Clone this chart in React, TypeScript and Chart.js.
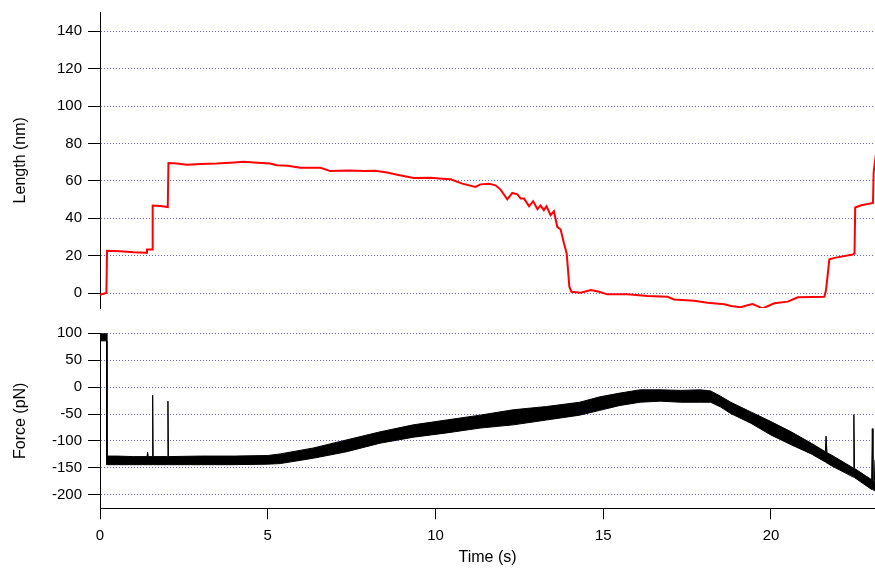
import React, { useEffect, useRef } from 'react';
import { Chart, registerables } from 'chart.js';

Chart.register(...registerables);

// ---- Tick values ----
const timeTicks = [0, 5, 10, 15, 20];
const lengthTicks = [0, 20, 40, 60, 80, 100, 120, 140];
const forceTicks = [-200, -150, -100, -50, 0, 50, 100];

// ---- Length trace (time s, length nm) ----
const lengthT = [
  0, 0.19, 0.2, 0.21, 0.6, 1.0, 1.38, 1.4, 1.55, 1.57, 1.8, 2.02, 2.04, 2.3, 2.59, 3.0, 3.48, 4.0, 4.28, 4.7,
  5.07, 5.27, 5.6, 5.97, 6.57, 6.87, 7.4, 7.86, 8.2, 8.56, 8.86, 9.35, 9.85, 10.1, 10.45, 10.8, 11.19, 11.34,
  11.6, 11.79, 11.94, 12.14, 12.29, 12.44, 12.54, 12.64, 12.79, 12.91, 13.04, 13.13, 13.23, 13.31, 13.43,
  13.53, 13.63, 13.73, 13.83, 13.91, 13.99, 14.05, 14.33, 14.63, 14.88, 15.12, 15.72, 16.32, 16.92, 17.11,
  17.71, 18.11, 18.61, 18.81, 19.1, 19.3, 19.45, 19.6, 19.75, 20.1, 20.5, 20.8, 21.59, 21.64, 21.74, 21.89,
  22.44, 22.49, 22.51, 22.69, 23.04, 23.06, 23.13,
];
const lengthNm = [
  -1, 0, 0, 22.6, 22.3, 21.8, 21.5, 23.3, 23.3, 46.8, 46.5, 46.0, 69.5, 69.3, 68.6, 69.0, 69.2, 69.8, 70.2, 69.6,
  69.2, 68.3, 68.0, 67.0, 67.0, 65.2, 65.5, 65.2, 65.4, 64.4, 63.3, 61.5, 61.7, 61.3, 60.8, 58.5, 56.7, 58.1,
  58.4, 57.6, 55.3, 50.1, 53.5, 52.8, 50.5, 50.5, 46.4, 49.1, 44.8, 46.9, 44.3, 46.4, 41.6,
  43.7, 35.4, 34.0, 26.5, 21.2, 3.4, 0.7, 0.2, 1.6, 0.7, -0.7, -0.7, -1.6, -2.0, -3.4,
  -4.1, -5.2, -6.0, -6.9, -7.6, -6.5, -5.9, -7.0, -8.2, -5.5, -4.6, -2.3, -2.0, 1.6, 18.0, 18.8,
  20.6, 21.2, 45.7, 46.9, 48.2, 64.7, 74.5,
];

// ---- Force trace: noise band upper / lower edges (time s, force pN) ----
const forceT = [
  0, 0.195, 0.205, 0.5, 1.0, 1.4, 1.42, 1.44, 1.56, 1.57, 1.585, 2.01, 2.025, 2.04, 3.0, 4.0, 5.0, 5.37,
  6.36, 7.35, 8.35, 9.34, 10.33, 11.33, 12.32, 13.31, 14.3, 14.9, 15.5, 16.1, 16.7, 17.3, 17.9, 18.2, 18.5,
  18.8, 19.4, 20.0, 20.6, 21.2, 21.62, 21.64, 21.67, 21.8, 22.45, 22.47, 22.49, 23.0, 23.02, 23.04, 23.08,
  23.1, 23.13,
];
const forceHigh = [
  100, 100, -128, -128, -129, -129, -121, -129, -129, -15, -129, -129, -26, -129, -128, -128, -127, -124,
  -113, -98, -83, -70, -61, -52, -42, -36, -28, -18, -11, -5, -5, -6, -5, -7, -17,
  -28, -46, -64, -83, -104, -120, -91, -122, -126, -150, -51, -151, -172, -77, -174, -178,
  -135, -183,
];
const forceLow = [
  86, 86, -144, -144, -144, -144, -144, -144, -144, -144, -144, -144, -144, -144, -144, -144, -143, -142,
  -132, -120, -104, -93, -85, -76, -70, -61, -52, -43, -34, -28, -26, -28, -28, -28, -37,
  -49, -67, -89, -107, -124, -139, -140, -141, -146, -167, -167, -168, -190, -190, -190, -192,
  -193, -199,
];

const FONT = "'Liberation Sans', Arial, Helvetica, sans-serif";
const GRID_BLUE = 'rgba(80,80,255,0.9)';
const X_MAX = 23.1;

function yAxisOptions(title: string, min: number, max: number, ticks: number[]) {
  return {
    type: 'linear',
    position: 'left',
    min,
    max,
    afterBuildTicks: (s: any) => {
      s.ticks = ticks.map((v) => ({ value: v }));
    },
    afterFit: (s: any) => {
      s.width = 100;
      s.paddingTop = 0;
      s.paddingBottom = 0;
    },
    border: { display: true, color: '#000', width: 1, dash: [1, 2] },
    grid: {
      color: GRID_BLUE,
      lineWidth: 1,
      tickColor: '#000',
      tickLength: 12,
      tickWidth: 1,
      tickBorderDash: [],
      drawTicks: true,
    },
    ticks: { color: '#000', font: { family: FONT, size: 15 }, padding: 6, autoSkip: false },
    title: {
      display: true,
      text: title,
      color: '#000',
      font: { family: FONT, size: 16 },
      padding: { top: 11, bottom: 0 },
    },
  };
}

export default function App() {
  const topRef = useRef<HTMLCanvasElement | null>(null);
  const botRef = useRef<HTMLCanvasElement | null>(null);

  useEffect(() => {
    const lengthData = lengthT.map((t, i) => ({ x: t, y: lengthNm[i] }));
    const lowData = forceT.map((t, i) => ({ x: t, y: forceLow[i] }));
    const highData = forceT.map((t, i) => ({ x: t, y: forceHigh[i] }));

    const top = new Chart(topRef.current as HTMLCanvasElement, {
      type: 'line',
      data: {
        datasets: [
          {
            data: lengthData,
            borderColor: '#ff0000',
            borderWidth: 2,
            pointRadius: 0,
            fill: false,
            tension: 0,
          },
        ],
      },
      options: {
        animation: false,
        responsive: false,
        events: [],
        layout: { padding: { left: 0, right: 0, top: 12.5, bottom: 12 } },
        plugins: { legend: { display: false }, tooltip: { enabled: false } },
        scales: {
          x: { type: 'linear', min: 0, max: X_MAX, display: false },
          y: yAxisOptions('Length (nm)', -8, 150, lengthTicks) as any,
        },
      },
    } as any);

    const bot = new Chart(botRef.current as HTMLCanvasElement, {
      type: 'line',
      data: {
        datasets: [
          {
            data: lowData,
            borderColor: '#000',
            borderWidth: 1,
            pointRadius: 0,
            fill: false,
            tension: 0,
          },
          {
            data: highData,
            borderColor: '#000',
            backgroundColor: '#000',
            borderWidth: 1,
            pointRadius: 0,
            fill: '-1',
            tension: 0,
          },
        ],
      },
      options: {
        animation: false,
        responsive: false,
        events: [],
        layout: { padding: { left: 0, right: 0, top: 13.3, bottom: 0 } },
        plugins: { legend: { display: false }, tooltip: { enabled: false } },
        scales: {
          x: {
            type: 'linear',
            position: 'bottom',
            min: 0,
            max: X_MAX,
            afterBuildTicks: (s: any) => {
              s.ticks = timeTicks.map((v) => ({ value: v }));
            },
            afterFit: (s: any) => {
              s.height = 60.7;
              s.paddingLeft = 0;
              s.paddingRight = 0;
            },
            border: { display: true, color: '#000', width: 1 },
            grid: {
              drawOnChartArea: false,
              color: '#000',
              tickColor: '#000',
              tickLength: 11,
              tickWidth: 1,
            },
            ticks: {
              color: '#000',
              font: { family: FONT, size: 15 },
              padding: 8,
              maxRotation: 0,
              autoSkip: false,
            },
            title: {
              display: true,
              text: 'Time (s)',
              color: '#000',
              font: { family: FONT, size: 16 },
              padding: { top: 0, bottom: 2 },
            },
          },
          y: yAxisOptions('Force (pN)', -225, 100, forceTicks) as any,
        },
      },
    } as any);

    return () => {
      top.destroy();
      bot.destroy();
    };
  }, []);

  return (
    <div
      style={{
        position: 'fixed',
        left: 0,
        top: 0,
        width: 875,
        height: 569,
        background: '#fff',
      }}
    >
      <canvas
        ref={topRef}
        width={875}
        height={320}
        style={{ position: 'absolute', left: 0, top: 0, width: 875, height: 320, display: 'block' }}
      />
      <canvas
        ref={botRef}
        width={875}
        height={249}
        style={{ position: 'absolute', left: 0, top: 320, width: 875, height: 249, display: 'block' }}
      />
    </div>
  );
}
